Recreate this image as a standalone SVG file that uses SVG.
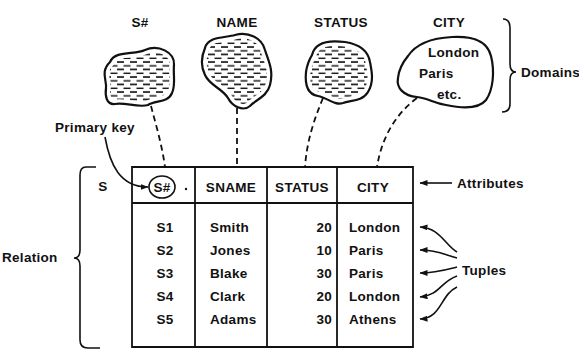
<svg xmlns="http://www.w3.org/2000/svg" width="579" height="350" viewBox="0 0 579 350">
<style>
text{font-family:"Liberation Sans",Arial,sans-serif;font-weight:bold;font-size:13.5px;letter-spacing:0.3px;fill:#111}
.blob{stroke:#111;stroke-width:2.2;stroke-linejoin:round}
.halo{fill:none;stroke:#fff;stroke-width:9}
.dash{fill:none;stroke:#111;stroke-width:1.8;stroke-dasharray:6 4}
.ln{fill:none;stroke:#111;stroke-width:1.6}
.tbl{fill:none;stroke:#111;stroke-width:1.8}
</style>
<defs>
<pattern id="hatch" patternUnits="userSpaceOnUse" width="13" height="7.5">
<path d="M0,2 H7 M6.5,5.8 H13 M0,5.8 H0.5" stroke="#111" stroke-width="1.5" fill="none"/>
</pattern>
<marker id="ah" viewBox="0 0 8 6" refX="7.5" refY="3" markerWidth="8" markerHeight="6" markerUnits="userSpaceOnUse" orient="auto">
<path d="M0,0 L8,3 L0,6 Z" fill="#111"/>
</marker>
</defs>
<rect width="579" height="350" fill="#fff"/>

<g id="domain-snum">
<path d="M110,62 C115,50 135,55 145,50 C158,44 175,52 174,65 C173,75 176,85 172,93 C168,103 155,100 148,105 C138,108 125,102 115,104 C106,105 105,95 106,88 C107,80 100,72 110,62 Z" fill="url(#hatch)"/>
<path class="halo" d="M110,62 C115,50 135,55 145,50 C158,44 175,52 174,65 C173,75 176,85 172,93 C168,103 155,100 148,105 C138,108 125,102 115,104 C106,105 105,95 106,88 C107,80 100,72 110,62 Z"/>
<path class="blob" fill="none" d="M110,62 C115,50 135,55 145,50 C158,44 175,52 174,65 C173,75 176,85 172,93 C168,103 155,100 148,105 C138,108 125,102 115,104 C106,105 105,95 106,88 C107,80 100,72 110,62 Z"/>
<text x="140" y="27" text-anchor="middle">S#</text>
</g>

<g id="domain-name">
<path d="M205,48 C208,36 225,38 235,35 C248,31 262,38 265,50 C268,60 274,70 270,85 C267,97 255,100 250,106 C243,112 232,106 228,98 C222,88 210,86 205,75 C200,65 202,55 205,48 Z" fill="url(#hatch)"/>
<path class="halo" d="M205,48 C208,36 225,38 235,35 C248,31 262,38 265,50 C268,60 274,70 270,85 C267,97 255,100 250,106 C243,112 232,106 228,98 C222,88 210,86 205,75 C200,65 202,55 205,48 Z"/>
<path class="blob" fill="none" d="M205,48 C208,36 225,38 235,35 C248,31 262,38 265,50 C268,60 274,70 270,85 C267,97 255,100 250,106 C243,112 232,106 228,98 C222,88 210,86 205,75 C200,65 202,55 205,48 Z"/>
<text x="237" y="27" text-anchor="middle">NAME</text>
</g>

<g id="domain-status">
<path d="M312,55 C315,42 330,40 345,42 C358,44 368,50 370,62 C372,72 374,82 368,92 C362,102 350,100 343,103 C335,106 328,98 318,96 C306,94 305,82 306,72 C307,65 309,60 312,55 Z" fill="url(#hatch)"/>
<path class="halo" d="M312,55 C315,42 330,40 345,42 C358,44 368,50 370,62 C372,72 374,82 368,92 C362,102 350,100 343,103 C335,106 328,98 318,96 C306,94 305,82 306,72 C307,65 309,60 312,55 Z"/>
<path class="blob" fill="none" d="M312,55 C315,42 330,40 345,42 C358,44 368,50 370,62 C372,72 374,82 368,92 C362,102 350,100 343,103 C335,106 328,98 318,96 C306,94 305,82 306,72 C307,65 309,60 312,55 Z"/>
<text x="341" y="27" text-anchor="middle">STATUS</text>
</g>

<g id="domain-city">
<path class="blob" fill="none" d="M408,56 C416,44 432,38 452,37 C472,36 487,40 491,56 C495,72 493,90 486,100 C478,110 460,108 446,105 C433,103 428,98 417,97 C404,96 396,88 398,78 C399,68 403,62 408,56 Z"/>
<text x="449" y="27" text-anchor="middle">CITY</text>
<text x="428" y="57">London</text>
<text x="419" y="78">Paris</text>
<text x="437" y="99">etc.</text>
</g>

<g id="domains-label">
<path class="ln" d="M503,19 C508,19 510,22 510,28 L510,64 C510,69 512,72 516,72 C512,72 510,75 510,80 L510,104 C510,110 507,112 502,112"/>
<text x="521" y="77">Domains</text>
</g>

<g id="relation-table">
<path class="tbl" d="M132,167 H413 V347 H132 Z M132,203 H413 M195,167 V347 M267,167 V347 M337,167 V347"/>
<text x="103" y="191" text-anchor="middle">S</text>
<ellipse cx="162" cy="187" rx="13" ry="11" class="ln"/>
<text x="162" y="192" text-anchor="middle">S#</text>
<circle cx="186" cy="189" r="1.2" fill="#111"/>
<text x="231" y="192" text-anchor="middle">SNAME</text>
<text x="302" y="192" text-anchor="middle">STATUS</text>
<text x="373" y="192" text-anchor="middle">CITY</text>
<g text-anchor="middle">
<text x="165" y="232">S1</text>
<text x="165" y="255">S2</text>
<text x="165" y="278">S3</text>
<text x="165" y="301">S4</text>
<text x="165" y="324">S5</text>
</g>
<text x="210" y="232">Smith</text>
<text x="210" y="255">Jones</text>
<text x="210" y="278">Blake</text>
<text x="210" y="301">Clark</text>
<text x="210" y="324">Adams</text>
<g text-anchor="end">
<text x="332" y="232">20</text>
<text x="332" y="255">10</text>
<text x="332" y="278">30</text>
<text x="332" y="301">20</text>
<text x="332" y="324">30</text>
</g>
<text x="349" y="232">London</text>
<text x="349" y="255">Paris</text>
<text x="349" y="278">Paris</text>
<text x="349" y="301">London</text>
<text x="349" y="324">Athens</text>
</g>

<g id="relation-label">
<path class="ln" d="M96,167 L86,167 C82,167 80,170 80,175 L80,250 C80,255 78,258 74,258 C78,258 80,261 80,266 L80,340 C80,345 83,348 88,348 L100,348"/>
<text x="2" y="262">Relation</text>
</g>

<g id="primary-key-label">
<text x="55" y="132">Primary key</text>
</g>

<g id="attributes-label">
<text x="457" y="188">Attributes</text>
</g>

<g id="tuples-label">
<text x="462" y="275">Tuples</text>
</g>

<g id="connectors">
<path class="dash" d="M151,106 C156,125 162,145 165,167"/>
<path class="dash" d="M237,108 L237,167"/>
<path class="dash" d="M323,98 C314,120 307,140 305,167"/>
<path class="dash" d="M417,98 C398,112 382,135 377,167"/>
<path class="ln" marker-end="url(#ah)" d="M105,137 C110,165 120,187 148,187"/>
<path class="ln" marker-end="url(#ah)" d="M452,183 L420,183"/>
<path class="ln" marker-end="url(#ah)" d="M457,252 C445,245 440,228 420,227"/>
<path class="ln" marker-end="url(#ah)" d="M457,258 C445,255 438,250 420,250"/>
<path class="ln" marker-end="url(#ah)" d="M457,267 C445,270 435,273 420,273"/>
<path class="ln" marker-end="url(#ah)" d="M457,276 C440,282 440,295 420,297"/>
<path class="ln" marker-end="url(#ah)" d="M457,287 C440,295 442,318 420,319"/>
</g>
</svg>
